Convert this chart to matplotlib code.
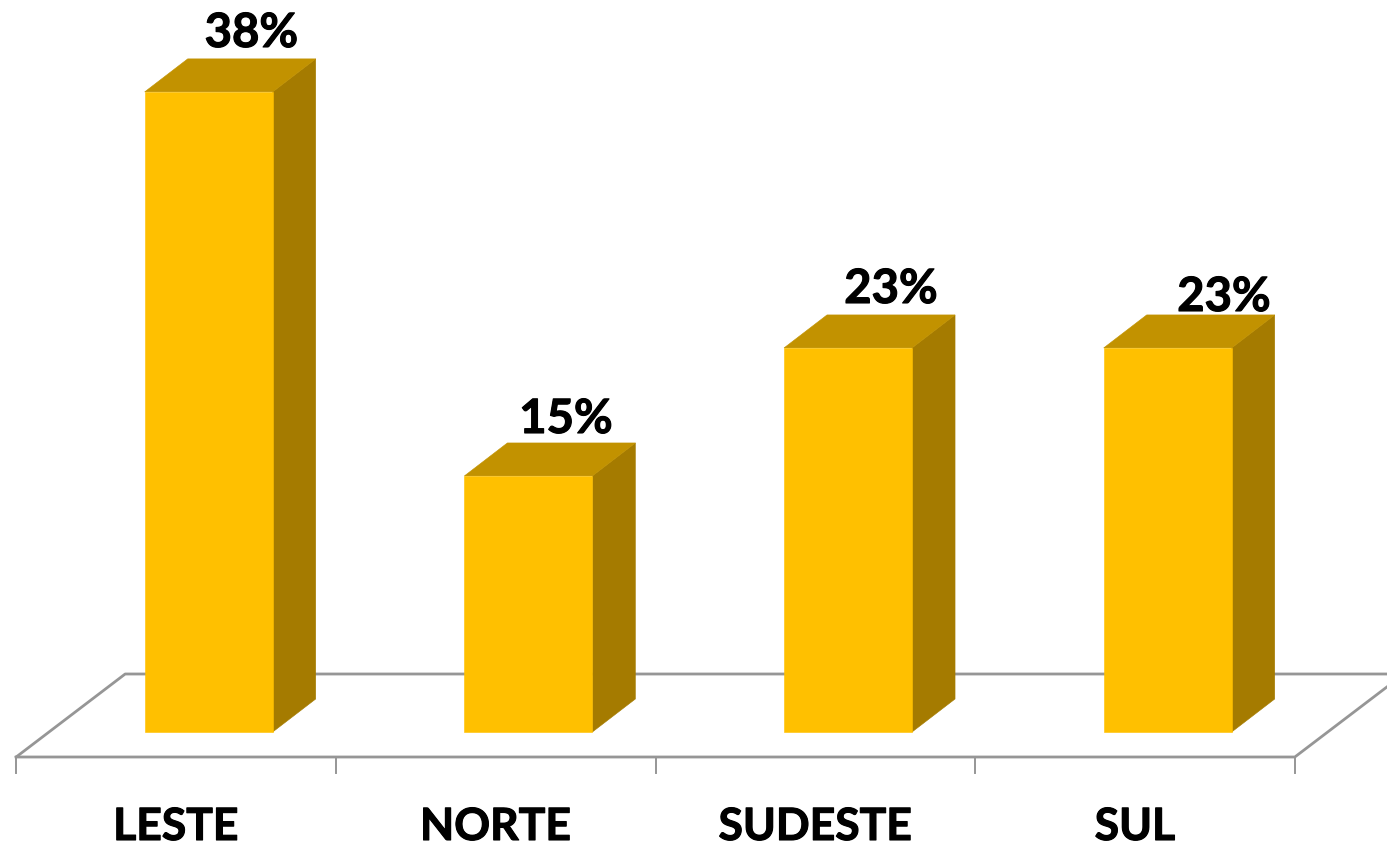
import matplotlib
matplotlib.use("Agg")
import matplotlib.pyplot as plt
from matplotlib.patches import Polygon
import matplotlib.patheffects as pe

categories = ["LESTE", "NORTE", "SUDESTE", "SUL"]
values = [37.5, 15.0, 22.5, 22.5]
value_labels = ["38%", "15%", "23%", "23%"]

W, H = 1387, 844
FRONT, TOP, SIDE = "#FFC000", "#C29200", "#A57B00"
GRID = "#969696"
PX_X = 319.67      # pixels per category
PX_Y = 17.07       # pixels per percent
X0, Y0 = 176.0, 732.0   # pixel of category 0 centre / value 0

fig = plt.figure(figsize=(W / 100, H / 100), dpi=100)
ax = fig.add_axes([0, 0, 1, 1])
ax.set_xlim(-X0 / PX_X, (W - X0) / PX_X)
ax.set_ylim(-(H - Y0) / PX_Y, Y0 / PX_Y)
ax.axis("off")

def dx(p): return p / PX_X
def dy(p): return p / PX_Y

stroke = [pe.withStroke(linewidth=0.8, foreground="black")]

# floor
bx0, bx1 = -0.5, 3.5
ax.plot([bx0, bx0 + dx(109), (W) / PX_X - X0 / PX_X], [dy(-25), dy(58), dy(58)], color=GRID, lw=2.0, zorder=1)
ax.plot([bx0, bx1, bx1 + dx(92)], [dy(-25), dy(-25), dy(45)], color=GRID, lw=2.0, zorder=1)
for i in range(len(categories) + 1):
    ax.plot([i - 0.5, i - 0.5], [dy(-25), dy(-41)], color=GRID, lw=1.4, zorder=1)

# bars
bar_w = dx(128)
off = dx(32.7)
ddx, ddy = dx(43), dy(33)
for i, (c, v, lab) in enumerate(zip(categories, values, value_labels)):
    l = i + off - bar_w / 2
    r = l + bar_w
    ax.add_patch(Polygon([(r, 0), (r + ddx, ddy), (r + ddx, v + ddy), (r, v)], fc=SIDE, ec=SIDE, lw=0.4, zorder=3))
    ax.add_patch(Polygon([(l, v), (r, v), (r + ddx, v + ddy), (l + ddx, v + ddy)], fc=TOP, ec=TOP, lw=0.4, zorder=3))
    ax.add_patch(Polygon([(l, 0), (r, 0), (r, v), (l, v)], fc=FRONT, ec=FRONT, lw=0.4, zorder=4))
    ax.text(i, dy(-95), c, ha="center", va="center", fontsize=32, fontweight="bold",
            family="Lato", color="black", zorder=5, path_effects=stroke)

label_px = [(251.5, 33), (566, 419), (891, 289), (1224, 297)]
for (px, py), lab in zip(label_px, value_labels):
    ax.text((px - X0) / PX_X, (Y0 - py) / PX_Y, lab, ha="center", va="center", fontsize=34,
            fontweight="bold", family="Lato", color="black", zorder=5, path_effects=stroke)

fig.savefig("out.png", dpi=100, facecolor="white")
